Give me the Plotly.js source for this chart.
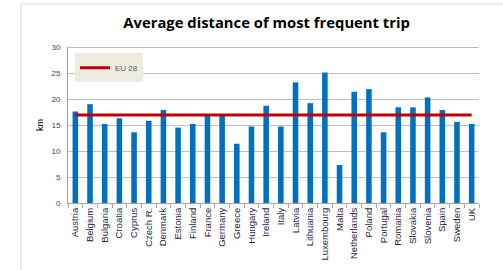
<!DOCTYPE html>
<html>
<head>
<meta charset="utf-8">
<script src="https://cdn.plot.ly/plotly-3.0.1.min.js"></script>
<style>html,body{margin:0;padding:0;background:#fff;}#chart{width:503px;height:270px;}</style>
</head>
<body>
<div id="chart"></div>
<script>
const countries = ["Austria","Belgium","Bulgaria","Croatia","Cyprus","Czech R.","Denmark","Estonia","Finland","France","Germany","Greece","Hungary","Ireland","Italy","Latvia","Lithuania","Luxembourg","Malta","Netherlands","Poland","Portugal","Romania","Slovakia","Slovenia","Spain","Sweden","UK"];
const distanceKm = [17.6,19.0,15.2,16.3,13.6,15.8,17.9,14.5,15.2,16.9,16.8,11.4,14.7,18.7,14.7,23.2,19.2,25.1,7.3,21.4,21.9,13.6,18.4,18.4,20.3,17.9,15.6,15.2];
const eu28Value = 16.9;
const eu28Line = countries.map(() => eu28Value);

const traces = [
  {type:'bar', x:countries, y:distanceKm, marker:{color:'#0070c0'}, showlegend:false, hoverinfo:'x+y'},
  {type:'scatter', mode:'lines', x:countries, y:eu28Line, name:'EU 28', line:{color:'#c00000', width:3}}
];

const layout = {
  width:503, height:270,
  margin:{l:68, r:24, t:47, b:67},
  paper_bgcolor:'#ffffff', plot_bgcolor:'#ffffff',
  font:{family:'Liberation Sans, Arial, sans-serif', color:'#404040'},
  title:{text:'<b>Average distance of most frequent trip</b>', x:0.53, xanchor:'center', y:0.915, yanchor:'middle', font:{size:14.8, color:'#000000', family:'Open Sans, Liberation Sans, sans-serif'}},
  bargap:0.62,
  xaxis:{type:'category', tickangle:-90, tickfont:{size:9.5, color:'#1f1f3f'}, ticks:'outside', tickson:'boundaries', ticklen:4, tickcolor:'#a6a6a6', showline:true, linecolor:'#a6a6a6', linewidth:1, showgrid:false, fixedrange:true},
  yaxis:{range:[0,30], dtick:5, tickfont:{size:8, color:'#404060'}, ticklabelstandoff:5, showgrid:true, gridcolor:'#bfbfbf', gridwidth:1, showline:true, linecolor:'#a6a6a6', mirror:false, zeroline:false, ticks:'', title:{text:'km', font:{size:9, color:'#000000'}, standoff:6}, fixedrange:true},
  showlegend:true,
  legend:{x:0.017, y:0.96, xanchor:'left', yanchor:'top', bgcolor:'#eeece1', font:{size:8, color:'#595959'}, itemwidth:30, borderwidth:0},
  shapes:[
    {type:'line', xref:'paper', yref:'y', x0:0, x1:1, y0:30, y1:30, line:{color:'#a6a6a6', width:1.5}},
    {type:'rect', xref:'paper', yref:'paper', x0:-0.1144, x1:1.07, y0:-0.46, y1:1.2756, line:{color:'#d9d9d9', width:1}, fillcolor:'rgba(0,0,0,0)', layer:'below'}
  ]
};

Plotly.newPlot('chart', traces, layout, {displayModeBar:false, staticPlot:true});
</script>
</body>
</html>
